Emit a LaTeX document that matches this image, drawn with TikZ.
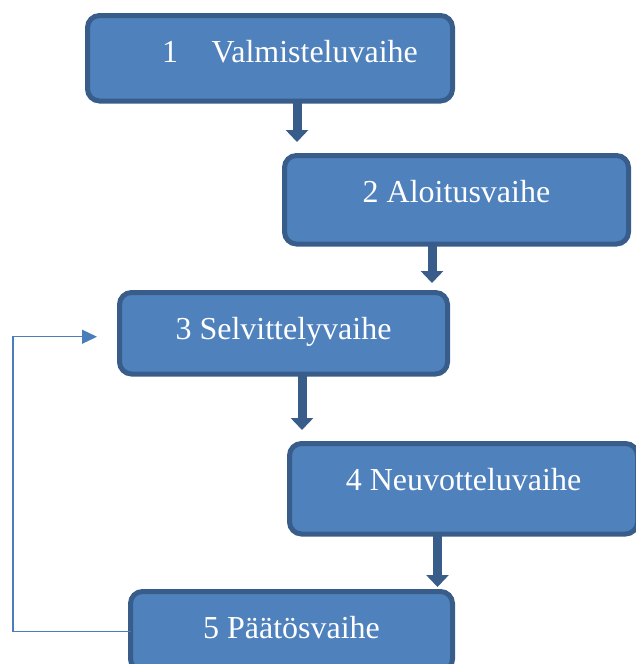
\documentclass[tikz,border=0pt]{standalone}
\usepackage{fontspec}
\setmainfont{Liberation Serif}
\usetikzlibrary{arrows.meta}
\definecolor{boxfill}{HTML}{4F81BD}
\definecolor{boxline}{HTML}{385D8A}
\definecolor{backline}{HTML}{4A7EBB}

\begin{document}
\begin{tikzpicture}[x=1pt,y=-1pt,phase/.style={draw=boxline,fill=boxfill,line width=5pt,rounded corners=12pt,text=white,font=\fontsize{32}{38}\selectfont,anchor=north west,inner sep=0pt,outer sep=0pt,text height=47pt},flow/.style={draw=boxline,line width=9pt,-{Triangle[width=22pt,length=12pt]}},back/.style={draw=backline,line width=1.3pt,-{Triangle[width=14pt,length=15pt]}}]
    \useasboundingbox (0,0) rectangle (636,664);
    \node[phase,minimum width=365pt,text depth=38.5pt] (b1) at (87.5,15.5) {\hspace*{40pt}1\hspace{1.05em}Valmisteluvaihe};
    \node[phase,minimum width=344pt,text depth=41.5pt] (b2) at (284.5,155.5) {2 Aloitusvaihe};
    \node[phase,minimum width=328pt,text depth=34.5pt] (b3) at (119.5,292.5) {3 Selvittelyvaihe};
    \node[phase,minimum width=348pt,text depth=43.5pt] (b4) at (289.5,443.5) {4 Neuvotteluvaihe};
    \node[phase,minimum width=322pt,text depth=32.5pt] (b5) at (130.5,591.5) {5 Päätösvaihe};
    \draw[flow,shorten >=13.5pt] ([xshift=27pt]b1.south) -- ([xshift=27pt]b1.south |- b2.north);
    \draw[flow,shorten >=9.5pt] ([xshift=-24.5pt]b2.south) -- ([xshift=-24.5pt]b2.south |- b3.north);
    \draw[flow,shorten >=13.5pt] ([xshift=18.5pt]b3.south) -- ([xshift=18.5pt]b3.south |- b4.north);
    \draw[flow,shorten >=4.5pt] ([xshift=-26pt]b4.south) -- ([xshift=-26pt]b4.south |- b5.north);
    \coordinate (ret) at (13,0);
    \draw[back,shorten >=22.5pt] (b5.west) -- (ret |- b5.west) |- ([yshift=-3.5pt]b3.west);
\end{tikzpicture}
\end{document}
